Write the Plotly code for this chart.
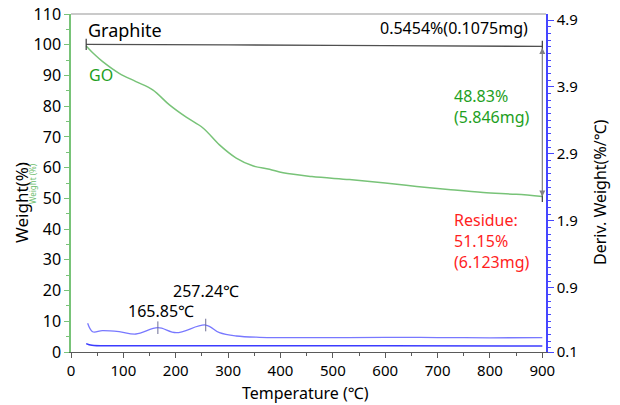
import plotly.graph_objects as go

# ---- data ----
go_temp = [29, 45, 60.5, 92, 124, 156, 188, 220, 252, 283.5, 315.5, 347, 379, 405, 460, 532, 600, 660, 720, 787, 850, 900]
go_weight = [99.6, 96.8, 94.5, 90.7, 88.0, 85.3, 80.4, 76.4, 72.9, 67.4, 63.1, 60.6, 59.5, 58.3, 57.1, 56.1, 55.0, 53.9, 52.9, 51.9, 51.3, 50.6]

gr_temp = [29, 300, 600, 900]
gr_weight = [100.1, 99.95, 99.7, 99.45]

dgo_temp = [31.8, 41.3, 60, 92, 124, 165.85, 200.8, 257.24, 283.5, 315.5, 360, 475, 600, 700, 800, 900]
dgo_val = [0.369, 0.243, 0.258, 0.243, 0.209, 0.303, 0.228, 0.343, 0.228, 0.179, 0.160, 0.154, 0.158, 0.156, 0.152, 0.154]

dgr_temp = [29, 40, 100, 300, 600, 900]
dgr_val = [0.066, 0.040, 0.034, 0.034, 0.032, 0.030]

peak_temp = [165.85, 257.24]
peak_val = [0.303, 0.343]

y2_tickvals = [-0.06, 0.9, 1.9, 2.9, 3.9, 4.9]
y2_ticktext = ["0.1", "0.9", "1.9", "2.9", "3.9", "4.9"]

FONT = "Noto Sans"
GREEN_LINE = "rgb(120,195,120)"
GREEN_TXT = "rgb(30,160,30)"
BLUE = "rgb(70,70,255)"

fig = go.Figure()
fig.add_trace(go.Scatter(x=gr_temp, y=gr_weight, mode="lines",
                         line=dict(color="rgb(80,80,80)", width=1.3, shape="spline"), showlegend=False))
fig.add_trace(go.Scatter(x=go_temp, y=go_weight, mode="lines",
                         line=dict(color=GREEN_LINE, width=1.5, shape="spline"), showlegend=False))
fig.add_trace(go.Scatter(x=dgo_temp, y=dgo_val, mode="lines", yaxis="y2",
                         line=dict(color="rgb(120,120,255)", width=1.3, shape="spline"), showlegend=False))
fig.add_trace(go.Scatter(x=dgr_temp, y=dgr_val, mode="lines", yaxis="y2",
                         line=dict(color="rgb(60,60,255)", width=1.5, shape="spline"), showlegend=False))
fig.add_trace(go.Scatter(x=peak_temp, y=peak_val, mode="markers", yaxis="y2",
                         marker=dict(symbol="line-ns", size=9, line=dict(color="rgb(110,110,150)", width=1)),
                         showlegend=False))
# end tick marks
fig.add_trace(go.Scatter(x=[gr_temp[0], gr_temp[-1], go_temp[-1]], y=[gr_weight[0], gr_weight[-1], go_weight[-1]],
                         mode="markers",
                         marker=dict(symbol="line-ns", size=8, line=dict(color="rgb(60,60,60)", width=1.2)),
                         showlegend=False))

fig.update_layout(
    width=620, height=405,
    margin=dict(l=71, r=74, t=14, b=53, pad=0, autoexpand=False),
    paper_bgcolor="white", plot_bgcolor="white",
    font=dict(family=FONT, size=16, color="black"),
    xaxis=dict(range=[0, 907], tickvals=[0, 100, 200, 300, 400, 500, 600, 700, 800, 900], automargin=False,
               showgrid=False, zeroline=False, showline=True, linecolor="rgb(90,90,90)", linewidth=1,
               ticks="outside", ticklen=5, tickcolor="rgb(90,90,90)",
               minor=dict(tick0=50, dtick=100, ticks="outside", ticklen=3, tickcolor="rgb(90,90,90)"),
               tickfont=dict(size=15)),
    yaxis=dict(range=[0, 110], tickvals=list(range(0, 111, 10)), automargin=False,
               showgrid=False, zeroline=False, showline=True, linecolor=GREEN_LINE, linewidth=1.5,
               ticks="outside", ticklen=5, tickcolor=GREEN_LINE,
               minor=dict(tick0=5, dtick=10, ticks="outside", ticklen=3, tickcolor=GREEN_LINE),
               tickfont=dict(size=16)),
    yaxis2=dict(range=[-0.06, 4.99], overlaying="y", side="right", anchor="x", automargin=False,
                tickmode="array", tickvals=y2_tickvals, ticktext=y2_ticktext,
                showgrid=False, zeroline=False, showline=True, linecolor=BLUE, linewidth=1.5,
                ticks="outside", ticklen=6, tickcolor=BLUE,
                minor=dict(tick0=0.9, dtick=0.1, ticks="outside", ticklen=3, tickcolor=BLUE),
                tickfont=dict(size=15)),
    shapes=[dict(type="line", xref="paper", yref="paper", x0=0, x1=1, y0=1, y1=1,
                 line=dict(color="rgb(150,150,150)", width=1.2))],
)

ann = []
ann.append(dict(x=29, y=104.8, text="Graphite", showarrow=False, xanchor="left", yanchor="middle",
                font=dict(size=18, color="black")))
ann.append(dict(x=30, y=90.2, text="GO", showarrow=False, xanchor="left", yanchor="middle",
                font=dict(size=16, color=GREEN_TXT)))
ann.append(dict(x=876, y=105.5, text="0.5454%(0.1075mg)", showarrow=False, xanchor="right", yanchor="middle",
                font=dict(size=16, color="black")))
ann.append(dict(x=727, y=79.8, text="48.83%<br>(5.846mg)", showarrow=False, xanchor="left", yanchor="middle",
                align="left", font=dict(size=16, color=GREEN_TXT)))
ann.append(dict(x=727, y=36.0, text="Residue:<br>51.15%<br>(6.123mg)", showarrow=False, xanchor="left",
                yanchor="middle", align="left", font=dict(size=16, color="rgb(255,30,30)")))
ann.append(dict(x=171.7, y=13.3, text="165.85℃", showarrow=False, xanchor="center", yanchor="middle",
                font=dict(size=16, color="black")))
ann.append(dict(x=258, y=19.8, text="257.24℃", showarrow=False, xanchor="center", yanchor="middle",
                font=dict(size=16, color="black")))
# double arrow
ann.append(dict(x=900, y=go_weight[-1], ax=900, ay=gr_weight[-1], xref="x", yref="y", axref="x", ayref="y",
                text="", showarrow=True, arrowhead=2, startarrowhead=2, arrowside="end+start",
                arrowwidth=1.2, arrowsize=1, arrowcolor="rgb(130,130,130)"))
# axis titles
ann.append(dict(xref="paper", yref="paper", x=(305 - 71) / 475, y=(352 - 393) / 338,
                text="Temperature (℃)", showarrow=False, xanchor="center", yanchor="middle",
                font=dict(size=16, color="black")))
ann.append(dict(xref="paper", yref="paper", x=(21 - 71) / 475, y=(352 - 203) / 338,
                text="Weight(%)", showarrow=False, textangle=-90, xanchor="center", yanchor="middle",
                font=dict(size=17, color="black")))
ann.append(dict(xref="paper", yref="paper", x=(32 - 71) / 475, y=(352 - 184) / 338,
                text="Weight (%)", showarrow=False, textangle=-90, xanchor="center", yanchor="middle",
                font=dict(size=8, color="rgb(110,190,110)")))
ann.append(dict(xref="paper", yref="paper", x=(600 - 71) / 475, y=(352 - 192) / 338,
                text="Deriv. Weight(%/℃)", showarrow=False, textangle=-90, xanchor="center", yanchor="middle",
                font=dict(size=16, color="black")))
fig.update_layout(annotations=ann)

fig.write_html("out.html")
